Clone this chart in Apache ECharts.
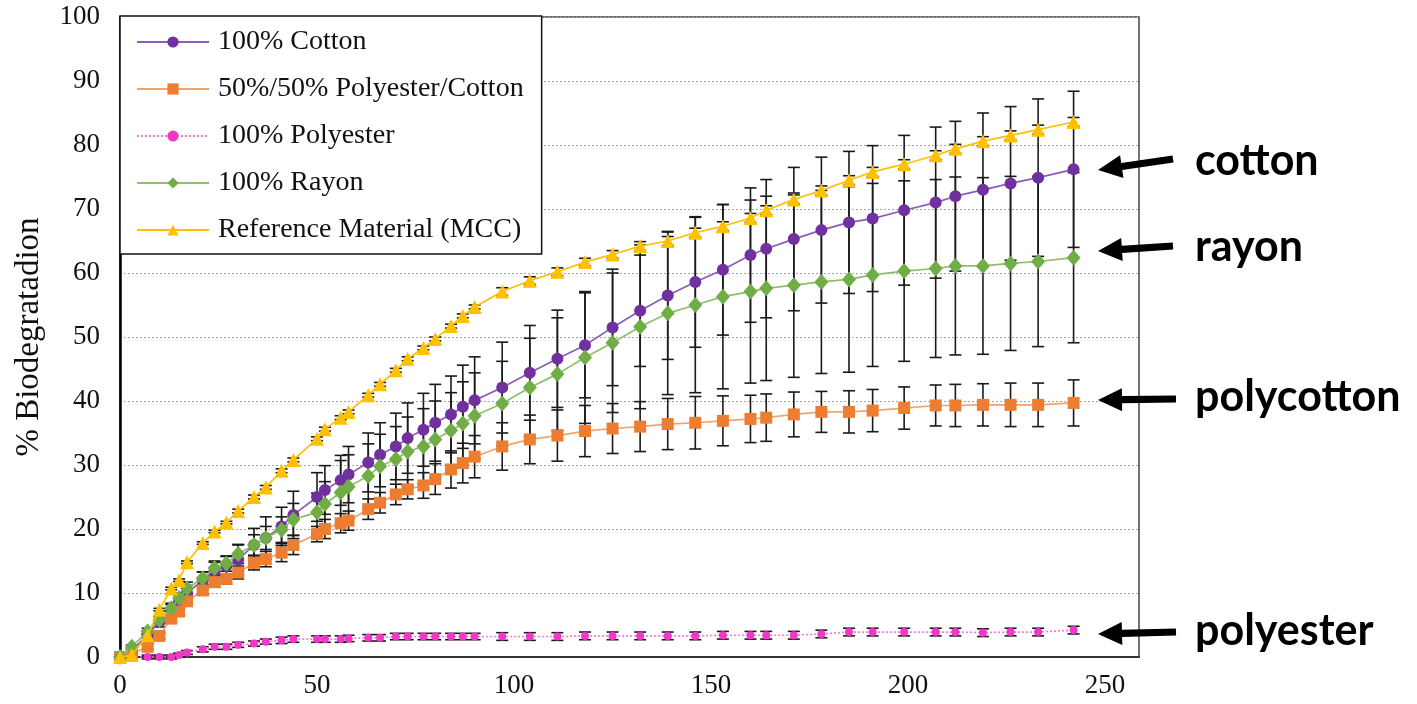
<!DOCTYPE html>
<html><head><meta charset="utf-8">
<script src="https://cdn.jsdelivr.net/npm/echarts@6/dist/echarts.min.js"></script>
<style>html,body{margin:0;padding:0;background:#fff}#c{width:1417px;height:704px}</style>
</head><body><div id="c"></div>
<script>
// ---- data (days of incubation) ----
const days = [0,3,7,10,13,15,17,21,24,27,30,34,37,41,44,50,52,56,58,63,66,70,73,77,80,84,87,90,97,104,111,118,125,132,139,146,153,160,164,171,178,185,191,199,207,212,219,226,233,242];

const cotton = [0,1.0,3.5,5.5,7.2,8.7,10.0,12.0,13.4,14.2,15.2,17.5,18.6,20.4,22.2,25.0,26.1,27.6,28.5,30.4,31.6,32.9,34.2,35.5,36.6,37.9,39.1,40.1,42.1,44.4,46.6,48.7,51.5,54.1,56.5,58.6,60.5,62.8,63.8,65.3,66.7,67.9,68.5,69.8,71.0,72.0,73.0,74.0,74.9,76.2];
const cottonErr = [0,0.3,0.5,0.8,1.0,1.0,1.2,1.3,1.4,1.5,2.3,2.6,3.3,3.0,3.7,3.8,3.8,3.9,4.4,4.6,5.0,5.2,5.5,5.7,6.0,6.0,6.5,6.8,7.1,7.4,7.6,8.2,9.1,8.7,10.0,10.2,10.2,10.5,10.8,11.2,11.4,11.1,11.4,11.7,11.8,11.7,12.0,12.0,12.3,12.2];

const polycotton = [0,0.5,1.6,3.3,6.0,7.1,8.7,10.4,11.7,12.2,13.2,14.7,15.3,16.3,17.5,19.2,20.0,20.9,21.3,23.1,24.1,25.4,26.2,26.8,27.8,29.3,30.3,31.3,32.9,34.0,34.6,35.3,35.7,36.0,36.4,36.6,36.9,37.2,37.4,37.9,38.3,38.3,38.5,38.9,39.3,39.3,39.4,39.4,39.4,39.7];
const polycottonErr = [0,0.2,0.4,0.5,0.6,0.6,0.7,0.7,0.8,0.8,1.0,1.1,1.2,1.4,1.5,1.2,1.5,1.5,1.5,1.6,1.6,1.6,1.5,2.0,2.4,2.9,3.1,3.3,3.7,3.8,4.0,4.0,3.9,3.9,4.0,4.1,3.9,3.7,3.7,3.5,3.2,3.3,3.3,3.3,3.2,3.3,3.3,3.4,3.4,3.6];

const polyester = [0,0,0,0,0,0.3,0.7,1.2,1.6,1.6,1.9,2.1,2.4,2.6,2.8,2.8,2.8,2.8,2.9,3.0,3.0,3.2,3.2,3.2,3.2,3.2,3.2,3.2,3.2,3.2,3.2,3.3,3.3,3.3,3.3,3.3,3.4,3.4,3.4,3.4,3.6,3.9,3.9,3.9,3.9,3.9,3.8,3.9,3.9,4.2];
const polyesterErr = [0,0.3,0.3,0.3,0.3,0.3,0.3,0.4,0.4,0.4,0.4,0.4,0.4,0.5,0.5,0.5,0.5,0.5,0.5,0.5,0.5,0.5,0.5,0.5,0.5,0.5,0.5,0.5,0.6,0.6,0.6,0.6,0.6,0.6,0.6,0.6,0.6,0.6,0.6,0.6,0.6,0.6,0.6,0.6,0.6,0.6,0.6,0.6,0.6,0.6];

const rayon = [0,1.6,4.0,5.8,7.6,9.2,10.7,12.3,13.9,14.6,16.1,17.5,18.6,19.9,21.5,22.6,23.9,25.7,26.6,28.3,29.8,30.9,32.1,32.9,34.0,35.4,36.5,37.7,39.6,42.1,44.2,46.8,49.1,51.6,53.7,55.0,56.3,57.1,57.6,58.1,58.6,59.0,59.7,60.3,60.7,61.1,61.1,61.5,61.8,62.4];
const rayonErr = [0,0.3,0.5,0.6,0.8,0.8,1.0,1.0,1.1,1.2,1.5,1.6,1.8,2.0,2.5,3.0,3.5,5.0,5.0,5.0,5.0,5.1,5.4,5.9,6.0,5.9,6.5,6.7,6.6,7.7,8.8,10.3,10.9,12.8,12.7,13.7,14.4,14.3,14.4,14.4,14.3,14.5,14.3,14.1,13.9,13.9,13.8,13.6,13.3,13.3];

const mcc = [0,0.3,3.4,7.4,10.7,12.0,14.8,17.8,19.6,21.0,22.8,25.0,26.5,29.1,30.8,34.1,35.6,37.4,38.3,40.9,42.6,44.8,46.6,48.3,49.7,51.7,53.3,54.7,57.1,58.8,60.2,61.7,62.9,64.2,65.0,66.3,67.3,68.6,69.8,71.5,72.9,74.5,75.8,77.0,78.4,79.4,80.6,81.5,82.4,83.6];
const mccErr = [0,0.2,0.2,0.2,0.2,0.2,0.2,0.2,0.2,0.2,0.3,0.3,0.3,0.3,0.3,0.3,0.3,0.3,0.3,0.3,0.3,0.3,0.3,0.3,0.3,0.3,0.3,0.3,0.6,0.6,0.6,0.6,0.6,0.7,0.7,0.7,0.7,0.7,0.7,0.7,0.7,0.7,0.7,0.7,0.7,0.7,0.7,0.7,0.7,0.7];

const seriesNames = ['100% Cotton','50%/50% Polyester/Cotton','100% Polyester','100% Rayon','Reference Material (MCC)'];
const annotations = ['cotton','rayon','polycotton','polyester'];
const yAxisTitle = '% Biodegratadion';

// ---- helpers ----
const SERIF = '"Liberation Serif","Times New Roman",serif';
function lineData(vals){ return days.map((d,i)=>[d, vals[i]]); }
function errData(vals, errs){ return days.map((d,i)=>[d, vals[i]-errs[i], vals[i]+errs[i]]); }
function errSeries(id, vals, errs){
  return {
    type:'custom', id:id, name:id, silent:true, z:1, clip:false,
    renderItem:function(params, api){
      const x = api.value(0), lo = api.value(1), hi = api.value(2);
      const p1 = api.coord([x, lo]), p2 = api.coord([x, hi]);
      const w = 6;
      const st = {stroke:'#1a1a1a', lineWidth:1.6};
      return {type:'group', children:[
        {type:'line', shape:{x1:p1[0],y1:p1[1],x2:p2[0],y2:p2[1]}, style:st},
        {type:'line', shape:{x1:p1[0]-w,y1:p1[1],x2:p1[0]+w,y2:p1[1]}, style:st},
        {type:'line', shape:{x1:p2[0]-w,y1:p2[1],x2:p2[0]+w,y2:p2[1]}, style:st}
      ]};
    },
    encode:{x:0, y:[1,2]},
    data: errData(vals, errs)
  };
}
function lineSeries(name, vals, symbol, size, mColor, lColor, lType, z){
  return {
    type:'line', name:name, data:lineData(vals), symbol:symbol, symbolSize:size,
    showAllSymbol:true, z:z,
    itemStyle:{color:mColor, borderWidth:0},
    lineStyle:{color:lColor, width:1.7, type:lType},
    emphasis:{disabled:true}
  };
}
function arrowPoints(tx,ty,ex,ey){
  const dx=ex-tx, dy=ey-ty, L=Math.hypot(dx,dy);
  const ux=dx/L, uy=dy/L, nx=-uy, ny=ux;
  const hl=24, hw=11.5, sw=3.6;
  const bx=tx+ux*hl, by=ty+uy*hl;
  return [[tx,ty],[bx+nx*hw,by+ny*hw],[bx+nx*sw,by+ny*sw],[ex+nx*sw,ey+ny*sw],
          [ex-nx*sw,ey-ny*sw],[bx-nx*sw,by-ny*sw],[bx-nx*hw,by-ny*hw]];
}

const chart = echarts.init(document.getElementById('c'), null, {renderer:'canvas'});

const arrowDefs = [
  {t:annotations[0], tip:[1098,170], tail:[1173,159], ty:163},
  {t:annotations[1], tip:[1098,251], tail:[1173,246], ty:249},
  {t:annotations[2], tip:[1098,400], tail:[1176,399], ty:399},
  {t:annotations[3], tip:[1098,634], tail:[1176,632], ty:633}
];
const graphics = [];
arrowDefs.forEach(a=>{
  graphics.push({type:'polygon', shape:{points:arrowPoints(a.tip[0],a.tip[1],a.tail[0],a.tail[1])}, style:{fill:'#000'}, z:10});
  graphics.push({type:'text', left:1195, top:a.ty-23, style:{text:a.t, font:'bold 43px Lato, "Open Sans", sans-serif', fill:'#000'}, z:10});
});

chart.setOption({
  animation:false,
  backgroundColor:'#fff',
  grid:{left:120, right:278, top:17, bottom:47, show:true, borderColor:'#444', borderWidth:1.5, backgroundColor:'transparent'},
  legend:{
    data:seriesNames, orient:'vertical', left:120, top:16,
    backgroundColor:'#fff', borderColor:'#111', borderWidth:1.5,
    padding:[12,18,10,16], itemGap:19, itemWidth:72, itemHeight:14,
    textStyle:{fontFamily:SERIF, fontSize:28, color:'#111', lineHeight:28, padding:[0,0,0,4]},
    selectedMode:false, z:20
  },
  xAxis:{
    type:'value', min:0, max:258.6, interval:50,
    axisLine:{show:true, lineStyle:{color:'#333', width:2}},
    axisTick:{show:false}, splitLine:{show:false},
    axisLabel:{fontFamily:SERIF, fontSize:27, color:'#111', margin:15, showMaxLabel:false}
  },
  yAxis:{
    type:'value', min:0, max:100, interval:10,
    name:yAxisTitle, nameLocation:'middle', nameRotate:90, nameGap:74,
    nameTextStyle:{fontFamily:SERIF, fontSize:33, color:'#111'},
    axisLine:{show:true, lineStyle:{color:'#000', width:2.5}},
    axisTick:{show:false},
    splitLine:{show:true, lineStyle:{color:'#a6a6a6', width:1, type:[2,2]}},
    axisLabel:{fontFamily:SERIF, fontSize:27, color:'#111', margin:20}
  },
  graphic:graphics,
  series:[
    errSeries('e_cotton', cotton, cottonErr),
    errSeries('e_poly', polycotton, polycottonErr),
    errSeries('e_polyester', polyester, polyesterErr),
    errSeries('e_rayon', rayon, rayonErr),
    errSeries('e_mcc', mcc, mccErr),
    lineSeries(seriesNames[0], cotton, 'circle', 12, '#7030A0', '#8B5CB8', 'solid', 3),
    lineSeries(seriesNames[1], polycotton, 'rect', 12, '#ED7D31', '#F2A36E', 'solid', 4),
    lineSeries(seriesNames[2], polyester, 'circle', 8, '#F236C8', '#F57AD8', [2,2], 5),
    lineSeries(seriesNames[3], rayon, 'diamond', [14,16], '#70AD47', '#8CC06A', 'solid', 6),
    lineSeries(seriesNames[4], mcc, 'triangle', 14, '#FFC000', '#FFC000', 'solid', 7)
  ]
});
</script></body></html>
